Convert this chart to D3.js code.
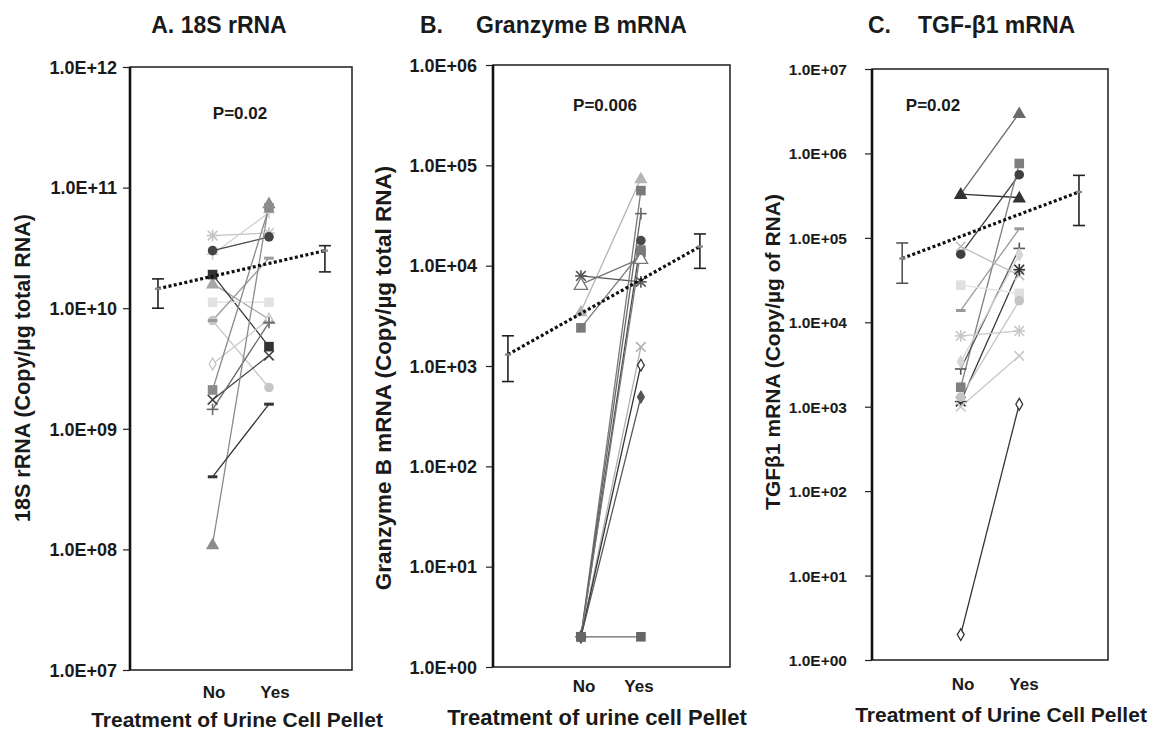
<!DOCTYPE html>
<html>
<head>
<meta charset="utf-8">
<script src="https://cdn.jsdelivr.net/npm/d3@7"></script>
<style>
  body { margin: 0; background: #fff; }
  text { font-family: "Liberation Sans", Arial, sans-serif; font-weight: bold; fill: #1a1a1a; }
</style>
</head>
<body>
<div id="chart"></div>
<script>
// ---- data ----
var groups = ["No", "Yes"];

// A. 18S rRNA
var rnaNo  = [4.0e10, 2.8e10, 3.0e10, 1.6e10, 1.9e10, 1.12e10, 7.9e9, 7.9e9, 3.45e9, 2.1e9, 1.74e9, 1.45e9, 1.1e8, 4.0e8];
var rnaYes = [4.2e10, 6.2e10, 3.9e10, 8.1e9, 4.8e9, 1.12e10, 2.2e9, 2.6e10, 8.1e9, 6.8e10, 4.05e9, 7.6e9, 7.4e10, 1.6e9];
var rnaMean = [1.45e10, 3.0e10];
var rnaLow  = [1.0e10, 2.0e10];
var rnaHigh = [1.75e10, 3.3e10];

// B. Granzyme B mRNA
var gzbNo  = [3.5e3, 2.4e3, 7.9e3, 6.5e3, 2, 2, 2, 2, 2, 2, 2, 2];
var gzbYes = [7.4e4, 1.35e4, 6.9e3, 1.18e4, 5.6e4, 3.3e4, 1.78e4, 1.43e4, 1.55e3, 1.02e3, 490, 2];
var gzbMean = [1.3e3, 1.55e4];
var gzbLow  = [7.0e2, 9.4e3];
var gzbHigh = [2.0e3, 2.07e4];

// C. TGF-b1 mRNA
var tgfNo  = [3.3e5, 3.3e5, 6.4e4, 1.7e3, 1.38e4, 2.8e3, 3.4e3, 7.9e4, 1.15e3, 2.75e4, 1.3e3, 6.9e3, 1.0e3, 2];
var tgfYes = [3.0e6, 3.0e5, 5.6e5, 7.6e5, 1.28e5, 7.5e4, 6.3e4, 3.6e4, 4.2e4, 2.2e4, 1.8e4, 7.9e3, 4.0e3, 1.07e3];
var tgfMean = [5.7e4, 3.5e5];
var tgfLow  = [2.9e4, 1.4e5];
var tgfHigh = [8.7e4, 5.5e5];

// ---- marker styles per series ----
var rnaShape = ["asterisk","plus","circle","triangle","square","square","circle","dash","diamondOpen","square","x","plus","triangle","dash"];
var rnaColor = ["#c4c4c4","#cfcfcf","#444","#a6a6a6","#333","#e2e2e2","#c6c6c6","#9a9a9a","#c8c8c8","#8a8a8a","#404040","#6a6a6a","#8c8c8c","#333"];
var gzbShape = ["triangle","square","asterisk","triangleOpen","square","plus","circle","square","x","diamondOpen","diamond","square"];
var gzbColor = ["#b4b4b4","#7a7a7a","#555","#777","#7a7a7a","#666","#4a4a4a","#7a7a7a","#b0b0b0","#333","#555","#666"];
var tgfShape = ["triangle","triangle","circle","square","dash","plus","diamond","x","asterisk","square","circle","asterisk","x","diamondOpen"];
var tgfColor = ["#6a6a6a","#333","#404040","#7f7f7f","#9a9a9a","#555","#d6d6d6","#bdbdbd","#333","#e0e0e0","#c4c4c4","#c8c8c8","#c8c8c8","#333"];

var W = 1150, H = 731;
var svg = d3.select("#chart").append("svg").attr("width", W).attr("height", H);

var panels = [
  { title: ["A. 18S rRNA"], titleX: [219], no: rnaNo, yes: rnaYes, shape: rnaShape, color: rnaColor,
    mean: rnaMean, low: rnaLow, high: rnaHigh, domain: [1e7, 1e12],
    left: 130, right: 352, top: 67, bottom: 670, labelGap: 10, tickSize: 18,
    xf: [0.126, 0.372, 0.626, 0.878], p: "P=0.02", pX: 240, pY: 119,
    ytitle: "18S rRNA (Copy/\u00b5g total RNA)", ytX: 30, ytY: 368, ytSize: 21.5,
    xtitle: "Treatment of Urine Cell Pellet", xtX: 237, xtY: 727, xtSize: 21,
    catX: [214, 275], catY: 698, barColor: ["#222", "#222"] },
  { title: ["B.", "Granzyme B mRNA"], titleX: [420, 476], no: gzbNo, yes: gzbYes, shape: gzbShape, color: gzbColor,
    mean: gzbMean, low: gzbLow, high: gzbHigh, domain: [1, 1e6],
    left: 493, right: 730, top: 65, bottom: 667, labelGap: 13, tickSize: 18,
    xf: [0.063, 0.371, 0.624, 0.873], p: "P=0.006", pX: 605, pY: 111,
    ytitle: "Granzyme B mRNA (Copy/\u00b5g total RNA)", ytX: 391, ytY: 378, ytSize: 22.5,
    xtitle: "Treatment of urine cell Pellet", xtX: 597, xtY: 725, xtSize: 22,
    catX: [584, 639], catY: 692, barColor: ["#222", "#222"] },
  { title: ["C.", "TGF-\u03b21 mRNA"], titleX: [868, 918], no: tgfNo, yes: tgfYes, shape: tgfShape, color: tgfColor,
    mean: tgfMean, low: tgfLow, high: tgfHigh, domain: [1, 1e7],
    left: 872, right: 1108, top: 69, bottom: 660, labelGap: 22, tickSize: 15.5,
    xf: [0.128, 0.376, 0.624, 0.877], p: "P=0.02", pX: 933, pY: 111,
    ytitle: "TGF\u03b21 mRNA (Copy/\u00b5g of RNA)", ytX: 780, ytY: 352, ytSize: 21,
    xtitle: "Treatment of Urine Cell Pellet", xtX: 1001, xtY: 722, xtSize: 21,
    catX: [963, 1024], catY: 690, barColor: ["#555", "#222"] }
];

function fmt(v) {
  var e = Math.round(Math.log10(v));
  return "1.0E+" + (e < 10 ? "0" + e : e);
}

function drawMarker(g, shape, color, cx, cy) {
  var s = 4.8;
  if (shape === "circle") {
    g.append("circle").attr("cx", cx).attr("cy", cy).attr("r", s).attr("fill", color);
  } else if (shape === "square") {
    g.append("rect").attr("x", cx - s).attr("y", cy - s).attr("width", 2 * s).attr("height", 2 * s).attr("fill", color);
  } else if (shape === "triangle" || shape === "triangleOpen") {
    g.append("path").attr("d", d3.symbol(d3.symbolTriangle, 78)())
      .attr("transform", "translate(" + cx + "," + (cy + 1) + ")")
      .attr("fill", shape === "triangle" ? color : "#fff")
      .attr("stroke", color).attr("stroke-width", shape === "triangle" ? 0 : 1.3);
  } else if (shape === "diamond" || shape === "diamondOpen") {
    g.append("path").attr("d", d3.symbol(d3.symbolDiamond, 40)())
      .attr("transform", "translate(" + cx + "," + cy + ")")
      .attr("fill", shape === "diamond" ? color : "#fff")
      .attr("stroke", color).attr("stroke-width", 1.3);
  } else if (shape === "dash") {
    g.append("rect").attr("x", cx - s).attr("y", cy - 1.5).attr("width", 2 * s).attr("height", 3).attr("fill", color);
  } else {
    var segs = [];
    if (shape === "plus" || shape === "asterisk") segs.push([0, -s - 1, 0, s + 1], [-s - 1, 0, s + 1, 0]);
    if (shape === "x" || shape === "asterisk") segs.push([-s, -s, s, s], [-s, s, s, -s]);
    segs.forEach(function (q) {
      g.append("line").attr("x1", cx + q[0]).attr("y1", cy + q[1]).attr("x2", cx + q[2]).attr("y2", cy + q[3])
        .attr("stroke", color).attr("stroke-width", 1.6);
    });
  }
}

panels.forEach(function (p) {
  var g = svg.append("g");
  var y = d3.scaleLog().domain(p.domain).range([p.bottom, p.top]);
  var x = d3.scaleOrdinal().domain(["pre", "No", "Yes", "post"])
    .range(p.xf.map(function (f) { return p.left + f * (p.right - p.left); }));

  // titles
  p.title.forEach(function (t, i) {
    g.append("text").attr("x", p.titleX[i]).attr("y", 33)
      .attr("text-anchor", p.title.length === 1 ? "middle" : "start")
      .style("font-size", "23px").text(t);
  });

  // frame
  g.append("rect").attr("x", p.left).attr("y", p.top)
    .attr("width", p.right - p.left).attr("height", p.bottom - p.top)
    .attr("fill", "none").attr("stroke", "#2a2a2a").attr("stroke-width", 1.6);
  g.append("line").attr("x1", p.left).attr("x2", p.left).attr("y1", p.top).attr("y2", p.bottom)
    .attr("stroke", "#111").attr("stroke-width", 2.6);

  // y axis
  var decades = d3.range(Math.log10(p.domain[0]), Math.log10(p.domain[1]) + 1).map(function (e) { return Math.pow(10, e); });
  var ax = g.append("g").attr("transform", "translate(" + p.left + ",0)")
    .call(d3.axisLeft(y).tickValues(decades).tickFormat(fmt).tickSize(7).tickPadding(p.labelGap - 7 + 3));
  ax.select(".domain").remove();
  ax.selectAll(".tick line").attr("stroke", "#222").attr("stroke-width", 1.2);
  ax.selectAll(".tick text").style("font-size", p.tickSize + "px").style("font-family", "'Liberation Sans', Arial, sans-serif")
    .style("font-weight", "bold").attr("fill", "#1a1a1a").attr("dy", "0.35em");

  // y title
  g.append("text").attr("transform", "translate(" + p.ytX + "," + p.ytY + ") rotate(-90)")
    .attr("text-anchor", "middle").style("font-size", p.ytSize + "px").text(p.ytitle);

  // x category labels + title
  groups.forEach(function (c, i) {
    g.append("text").attr("x", p.catX[i]).attr("y", p.catY).attr("text-anchor", "middle")
      .style("font-size", "17px").text(c);
  });
  g.append("text").attr("x", p.xtX).attr("y", p.xtY).attr("text-anchor", "middle")
    .style("font-size", p.xtSize + "px").text(p.xtitle);

  // p value
  g.append("text").attr("x", p.pX).attr("y", p.pY).attr("text-anchor", "middle")
    .style("font-size", "17px").text(p.p);

  // paired lines
  var lines = g.append("g");
  p.no.forEach(function (v, i) {
    lines.append("line").attr("x1", x("No")).attr("y1", y(v))
      .attr("x2", x("Yes")).attr("y2", y(p.yes[i]))
      .attr("stroke", p.color[i]).attr("stroke-width", 1.3);
  });
  var marks = g.append("g");
  p.no.forEach(function (v, i) {
    drawMarker(marks, p.shape[i], p.color[i], x("No"), y(v));
    drawMarker(marks, p.shape[i], p.color[i], x("Yes"), y(p.yes[i]));
  });

  // mean +/- error bars and dotted trend
  var ends = ["pre", "post"];
  g.append("line").attr("x1", x("pre")).attr("y1", y(p.mean[0]))
    .attr("x2", x("post")).attr("y2", y(p.mean[1]))
    .attr("stroke", "#111").attr("stroke-width", 3.2).attr("stroke-dasharray", "3,2.4");
  ends.forEach(function (k, i) {
    var cx = x(k), col = p.barColor[i];
    g.append("line").attr("x1", cx).attr("x2", cx).attr("y1", y(p.low[i])).attr("y2", y(p.high[i]))
      .attr("stroke", col).attr("stroke-width", 1.6);
    [p.low[i], p.high[i]].forEach(function (v) {
      g.append("line").attr("x1", cx - 6).attr("x2", cx + 6).attr("y1", y(v)).attr("y2", y(v))
        .attr("stroke", col).attr("stroke-width", 1.6);
    });
    g.append("rect").attr("x", cx - 3).attr("y", y(p.mean[i]) - 1.2).attr("width", 6).attr("height", 2.4)
      .attr("fill", "#888");
  });
});
</script>
</body>
</html>
